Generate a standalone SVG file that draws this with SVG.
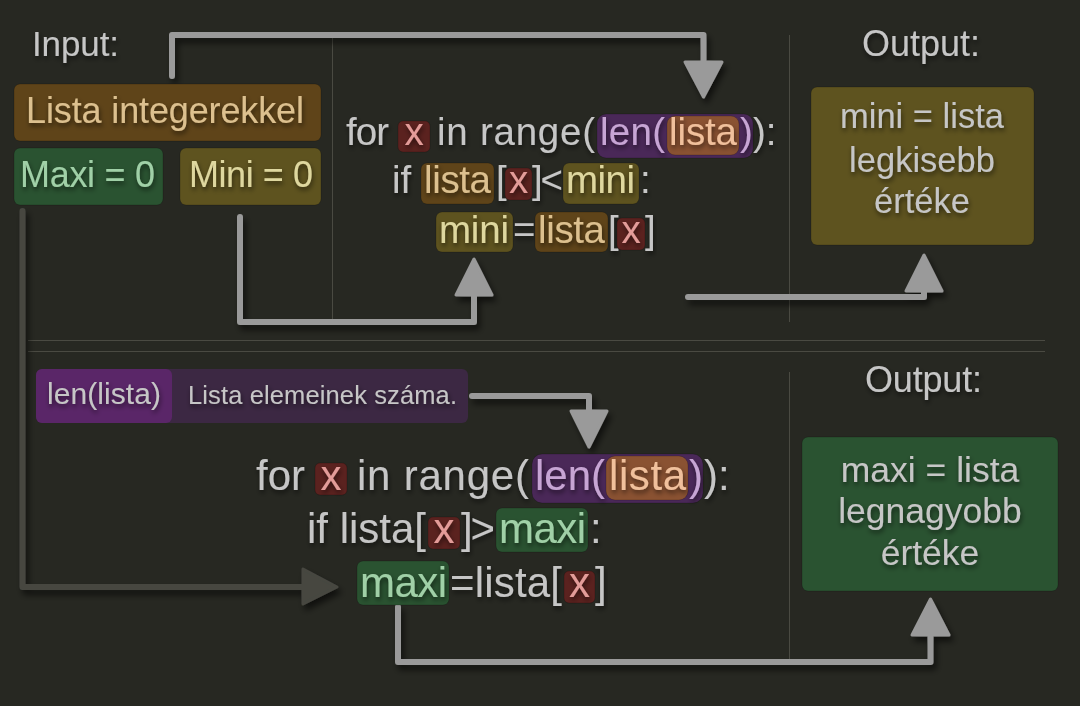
<svg xmlns="http://www.w3.org/2000/svg" width="1080" height="706" viewBox="0 0 1080 706">
  <defs>
    <filter id="ts" x="-10%" y="-30%" width="120%" height="160%">
      <feDropShadow dx="1" dy="3" stdDeviation="2.5" flood-color="#000" flood-opacity="0.55"/>
    </filter>
    <filter id="ls" x="-10%" y="-10%" width="120%" height="130%">
      <feDropShadow dx="3" dy="5" stdDeviation="3" flood-color="#000" flood-opacity="0.6"/>
    </filter>
  </defs>
  <style>
    text { font-family: "Liberation Sans", Arial, sans-serif; }
    .t { fill: #c6c6c6; filter: url(#ts); }
    .lbl { font-size: 36px; }
    .c1 { font-size: 38.5px; }
    .c2 { font-size: 42px; }
    .brown { fill: #5f4419; }
    .green { fill: #2a5331; }
    .olive { fill: #5e531f; }
    .red { fill: #5b221f; }
    .purple { fill: #4a2858; }
    .orange { fill: #8a5232; }
    .box { stroke: #000; stroke-opacity: 0.18; stroke-width: 1; }
    .tb { fill: #dcc08f; filter: url(#ts); }
    .tg { fill: #a0d0a7; filter: url(#ts); }
    .to { fill: #ded79f; filter: url(#ts); }
    .tr { fill: #e39c99; filter: url(#ts); }
    .tp { fill: #c7a5d4; filter: url(#ts); }
    .tor { fill: #f0c09c; filter: url(#ts); }
    .div { stroke: #4a4a42; stroke-width: 1; fill: none; }
    .wire { fill: none; stroke: #9a9a9a; stroke-width: 6; stroke-linecap: round; stroke-linejoin: round; }
    .head { fill: #9a9a9a; stroke: #9a9a9a; stroke-width: 3; stroke-linejoin: round; }
    .wire.dark { stroke: #464741; }
    .head.dark { fill: #464741; stroke: #464741; }
  </style>

  <!-- background -->
  <rect width="1080" height="706" fill="#272822"/>

  <!-- section dividers -->
  <g id="dividers">
    <line class="div" x1="332.5" y1="35" x2="332.5" y2="320"/>
    <line class="div" x1="789.5" y1="35" x2="789.5" y2="322"/>
    <line class="div" x1="789.5" y1="372" x2="789.5" y2="660"/>
    <line class="div" x1="28" y1="340.5" x2="1045" y2="340.5"/>
    <line class="div" x1="28" y1="351.5" x2="1045" y2="351.5"/>
  </g>

  <!-- connectors -->
  <g id="connectors" filter="url(#ls)">
    <path class="wire" d="M172,76 V35 H703.5 V62"/>
    <polygon class="head" points="685,62 722,62 703.5,97"/>

    <path class="wire" d="M240,217 V322 H474 V295"/>
    <polygon class="head" points="456,295 492,295 474,259"/>

    <path class="wire" d="M688,297 H924 V291"/>
    <polygon class="head" points="906,291 942,291 924,255"/>

    <path class="wire" d="M472,396 H589 V411"/>
    <polygon class="head" points="571,411 607,411 589,447"/>

    <path class="wire dark" d="M22.5,211 V587 H303"/>
    <polygon class="head dark" points="303,569 303,604 337,587"/>

    <path class="wire" d="M398,607 V662 H930.5 V635"/>
    <polygon class="head" points="912,635 949,635 930.5,599"/>
  </g>

  <!-- inputs -->
  <g id="input-label">
    <text class="t" x="32" y="56" font-size="35" textLength="87">Input:</text>
  </g>
  <g id="lista-node">
    <rect class="brown box" x="14" y="84" width="307" height="57" rx="6"/>
    <text class="tb lbl" x="26" y="123" textLength="278">Lista integerekkel</text>
  </g>
  <g id="maxi-node">
    <rect class="green box" x="14" y="148" width="149" height="57" rx="6"/>
    <text class="tg lbl" x="20" y="187" textLength="135">Maxi = 0</text>
  </g>
  <g id="mini-node">
    <rect class="olive box" x="180" y="148" width="141" height="57" rx="6"/>
    <text class="to lbl" x="189" y="187" textLength="124">Mini = 0</text>
  </g>

  <!-- minimum search loop -->
  <g id="code-min" class="c1">
    <text class="t" x="346" y="145" textLength="43">for</text>
    <rect class="red box" x="398" y="121" width="32" height="31" rx="5"/>
    <text class="tr" x="414" y="145" text-anchor="middle">x</text>
    <text class="t" x="437" y="145" textLength="158">in range(</text>
    <rect class="purple box" x="597" y="114" width="156" height="44" rx="9"/>
    <text class="tp" x="600" y="145" textLength="65">len(</text>
    <rect class="orange box" x="667" y="116" width="72" height="39" rx="8"/>
    <text class="tor" x="669" y="145" textLength="68">lista</text>
    <text class="tp" x="740" y="145">)</text>
    <text class="t" x="753" y="145">):</text>

    <text class="t" x="392" y="193">if</text>
    <rect class="brown box" x="421" y="163" width="73" height="41" rx="6"/>
    <text class="tb" x="424" y="193" textLength="67">lista</text>
    <text class="t" x="496" y="193">[</text>
    <rect class="red box" x="505" y="168" width="27" height="32" rx="5"/>
    <text class="tr" x="518.5" y="193" text-anchor="middle">x</text>
    <text class="t" x="532" y="193" textLength="31">]&lt;</text>
    <rect class="olive box" x="563" y="163" width="76" height="41" rx="6"/>
    <text class="to" x="566" y="193" textLength="69">mini</text>
    <text class="t" x="640" y="193">:</text>

    <rect class="olive box" x="436" y="212" width="77" height="40" rx="6"/>
    <text class="to" x="439" y="243" textLength="70">mini</text>
    <text class="t" x="513" y="243">=</text>
    <rect class="brown box" x="535" y="212" width="73" height="40" rx="6"/>
    <text class="tb" x="538" y="243" textLength="67">lista</text>
    <text class="t" x="608" y="243">[</text>
    <rect class="red box" x="617" y="218" width="28" height="32" rx="5"/>
    <text class="tr" x="631" y="243" text-anchor="middle">x</text>
    <text class="t" x="645" y="243">]</text>
  </g>

  <!-- minimum result -->
  <g id="output-min">
    <text class="t lbl" x="862" y="56" textLength="118">Output:</text>
    <rect class="olive box" x="811" y="87" width="223" height="158" rx="6"/>
    <text class="t" x="922" y="128" font-size="34.5" text-anchor="middle">mini = lista</text>
    <text class="t" x="922" y="172" font-size="34.5" text-anchor="middle">legkisebb</text>
    <text class="t" x="922" y="213" font-size="34.5" text-anchor="middle">értéke</text>
  </g>

  <!-- len() legend -->
  <g id="legend">
    <rect x="36" y="369" width="432" height="54" rx="6" fill="#3c2843"/>
    <rect x="36" y="369" width="136" height="54" rx="6" fill="#5a2668"/>
    <text class="t" x="47" y="404" font-size="30" textLength="114">len(lista)</text>
    <text class="t" x="188" y="404" font-size="25.5" textLength="269">Lista elemeinek száma.</text>
  </g>

  <!-- maximum search loop -->
  <g id="code-max" class="c2">
    <text class="t" x="256" y="490" textLength="49">for</text>
    <rect class="red box" x="315" y="463" width="32" height="32" rx="5"/>
    <text class="tr" x="331" y="490" text-anchor="middle">x</text>
    <text class="t" x="357" y="490" textLength="172">in range(</text>
    <rect class="purple box" x="532" y="454" width="171" height="49" rx="10"/>
    <text class="tp" x="535" y="490" textLength="70">len(</text>
    <rect class="orange box" x="606" y="456" width="82" height="44" rx="9"/>
    <text class="tor" x="609" y="490" textLength="77">lista</text>
    <text class="tp" x="689" y="490">)</text>
    <text class="t" x="704" y="490">):</text>

    <text class="t" x="307" y="543" textLength="119">if lista[</text>
    <rect class="red box" x="428" y="517" width="32" height="32" rx="5"/>
    <text class="tr" x="444" y="543" text-anchor="middle">x</text>
    <text class="t" x="461" y="543" textLength="34">]&gt;</text>
    <rect class="green box" x="496" y="508" width="92" height="44" rx="6"/>
    <text class="tg" x="499" y="543" textLength="87">maxi</text>
    <text class="t" x="590" y="543">:</text>

    <rect class="green box" x="357" y="561" width="92" height="44" rx="6"/>
    <text class="tg" x="360" y="597" textLength="87">maxi</text>
    <text class="t" x="450" y="597" textLength="112">=lista[</text>
    <rect class="red box" x="564" y="571" width="31" height="32" rx="5"/>
    <text class="tr" x="579.5" y="597" text-anchor="middle">x</text>
    <text class="t" x="595" y="597">]</text>
  </g>

  <!-- maximum result -->
  <g id="output-max">
    <text class="t lbl" x="865" y="392" textLength="117">Output:</text>
    <rect class="green box" x="802" y="437" width="256" height="154" rx="6"/>
    <text class="t" x="930" y="482" font-size="35.5" text-anchor="middle">maxi = lista</text>
    <text class="t" x="930" y="523" font-size="35.5" text-anchor="middle">legnagyobb</text>
    <text class="t" x="930" y="565" font-size="35.5" text-anchor="middle">értéke</text>
  </g>
</svg>
